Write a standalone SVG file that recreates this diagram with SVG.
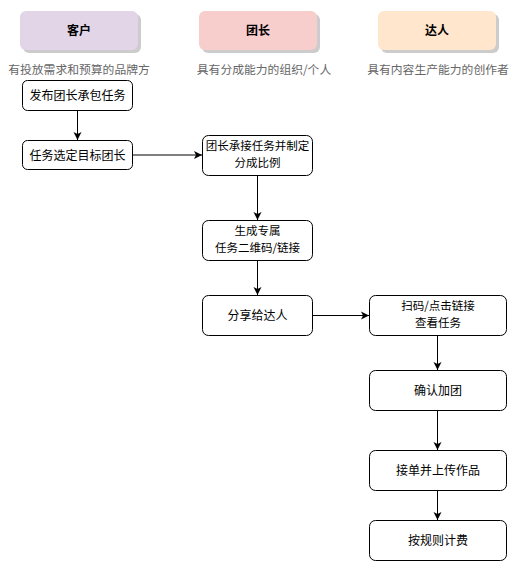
<svg xmlns="http://www.w3.org/2000/svg" width="526" height="581" viewBox="0 0 526 581">
<defs>
<style>
.hdr{stroke:none}
.shadow{fill:#000;opacity:0.2}
.box{fill:#fff;stroke:#000;stroke-width:1}
.t{font-family:"Noto Sans CJK SC","Liberation Sans",sans-serif;font-size:12px;fill:#000;text-anchor:middle}
.t2{font-size:11.5px}
.hb{font-weight:bold;font-size:12px}
.sub{font-family:"Noto Sans CJK SC","Liberation Sans",sans-serif;font-size:11.8px;fill:#666;text-anchor:middle}
.c{stroke:#000;stroke-width:1;fill:none;marker-end:url(#arr)}
</style>
<marker id="arr" markerWidth="10" markerHeight="10" refX="8" refY="5" orient="auto" markerUnits="userSpaceOnUse">
<path d="M0,1 L8,5 L0,9 L2,5 Z" fill="#000"/>
</marker>
</defs>
<rect width="526" height="581" fill="#fff"/>
<g id="h-client">
<rect class="shadow" x="23" y="14" width="118" height="39" rx="6"/>
<rect class="hdr" x="20" y="11" width="118" height="39" rx="6" fill="#e1d5e7"/>
<text class="t hb" x="79" y="35">客户</text>
<text class="sub" x="79" y="74">有投放需求和预算的品牌方</text>
</g>
<g id="h-leader">
<rect class="shadow" x="202" y="14" width="118" height="39" rx="6"/>
<rect class="hdr" x="199" y="11" width="118" height="39" rx="6" fill="#f8cecc"/>
<text class="t hb" x="258" y="35">团长</text>
<text class="sub" x="264" y="74">具有分成能力的组织/个人</text>
</g>
<g id="h-talent">
<rect class="shadow" x="381" y="14" width="118" height="39" rx="6"/>
<rect class="hdr" x="378" y="11" width="118" height="39" rx="6" fill="#ffe6cc"/>
<text class="t hb" x="437" y="35">达人</text>
<text class="sub" x="438" y="74">具有内容生产能力的创作者</text>
</g>
<g id="n1"><rect class="box" x="22.5" y="80.5" width="110" height="30" rx="5"/><text class="t" x="77.5" y="100">发布团长承包任务</text></g>
<g id="n2"><rect class="box" x="22.5" y="140.5" width="110" height="29" rx="5"/><text class="t" x="77.5" y="159.5">任务选定目标团长</text></g>
<g id="n3"><rect class="box" x="202.5" y="135.5" width="110" height="40" rx="6"/><text class="t t2" x="257.5" y="150">团长承接任务并制定</text><text class="t t2" x="257.5" y="167">分成比例</text></g>
<g id="n4"><rect class="box" x="202.5" y="220.5" width="110" height="40" rx="6"/><text class="t t2" x="257.5" y="235">生成专属</text><text class="t t2" x="257.5" y="252">任务二维码/链接</text></g>
<g id="n5"><rect class="box" x="202.5" y="295.5" width="110" height="40" rx="6"/><text class="t" x="257.5" y="319.5">分享给达人</text></g>
<g id="n6"><rect class="box" x="369.5" y="295.5" width="137" height="40" rx="6"/><text class="t t2" x="438" y="310">扫码/点击链接</text><text class="t t2" x="438" y="327">查看任务</text></g>
<g id="n7"><rect class="box" x="369.5" y="370.5" width="137" height="40" rx="6"/><text class="t" x="438" y="394.5">确认加团</text></g>
<g id="n8"><rect class="box" x="369.5" y="450.5" width="137" height="40" rx="6"/><text class="t" x="438" y="474.5">接单并上传作品</text></g>
<g id="n9"><rect class="box" x="369.5" y="520.5" width="137" height="40" rx="6"/><text class="t" x="438" y="544.5">按规则计费</text></g>
<g id="connectors">
<path class="c" d="M77.5,110.5 V140"/>
<path class="c" d="M132.5,155 H202"/>
<path class="c" d="M257.5,175.5 V220"/>
<path class="c" d="M257.5,260.5 V295"/>
<path class="c" d="M312.5,315.5 H369"/>
<path class="c" d="M437.5,335.5 V370"/>
<path class="c" d="M437.5,410.5 V450"/>
<path class="c" d="M437.5,490.5 V520"/>
</g>
</svg>
